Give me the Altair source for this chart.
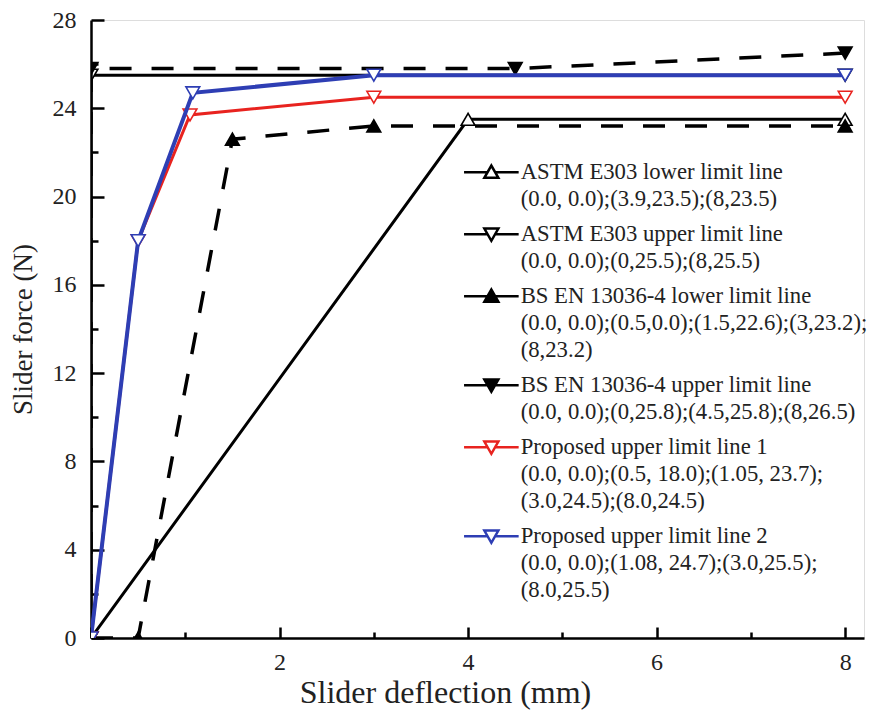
import altair as alt
import pandas as pd

# ---- data ----
labels = [
    "ASTM E303 lower limit line|(0.0, 0.0);(3.9,23.5);(8,23.5)",
    "ASTM E303 upper limit line|(0.0, 0.0);(0,25.5);(8,25.5)",
    "BS EN 13036-4 lower limit line|(0.0, 0.0);(0.5,0.0);(1.5,22.6);(3,23.2);|(8,23.2)",
    "BS EN 13036-4  upper limit line|(0.0, 0.0);(0,25.8);(4.5,25.8);(8,26.5)",
    "Proposed upper limit line 1|(0.0, 0.0);(0.5, 18.0);(1.05, 23.7);|(3.0,24.5);(8.0,24.5)",
    "Proposed upper limit line 2|(0.0, 0.0);(1.08, 24.7);(3.0,25.5);|(8.0,25.5)",
]
astm_lower_x = [0.0, 4.0, 8.0]
astm_lower_y = [0.0, 23.5, 23.5]
astm_upper_x = [0.0, 0.0, 8.0]
astm_upper_y = [0.0, 25.5, 25.5]
bs_lower_x = [0.0, 0.5, 1.5, 3.0, 8.0]
bs_lower_y = [0.0, 0.0, 22.6, 23.2, 23.2]
bs_upper_x = [0.0, 0.0, 4.5, 8.0]
bs_upper_y = [0.0, 25.8, 25.8, 26.5]
prop1_x = [0.0, 0.5, 1.05, 3.0, 8.0]
prop1_y = [0.0, 18.0, 23.7, 24.5, 24.5]
prop2_x = [0.0, 0.5, 1.08, 3.0, 8.0]
prop2_y = [0.0, 18.0, 24.7, 25.5, 25.5]

x_ticks = [0, 1, 2, 3, 4, 5, 6, 7, 8]
y_ticks = [0, 2, 4, 6, 8, 10, 12, 14, 16, 18, 20, 22, 24, 26, 28]

series_xy = [
    (astm_lower_x, astm_lower_y),
    (astm_upper_x, astm_upper_y),
    (bs_lower_x, bs_lower_y),
    (bs_upper_x, bs_upper_y),
    (prop1_x, prop1_y),
    (prop2_x, prop2_y),
]

# ---- styles ----
RED = "#e8231f"
BLUE = "#2e3eb4"
colors = ["#000000", "#000000", "#000000", "#000000", RED, BLUE]
dashes = [None, None, [22, 20], [22, 20], None, None]
widths = [3, 3, 3.5, 3.5, 3, 4]
shapes = ["triangle-up", "triangle-down", "triangle-up", "triangle-down", "triangle-down", "triangle-down"]
fills = ["white", "white", "#000000", "#000000", "white", "white"]

# legend glyph: short line with a triangle in the middle (shifted down to sit on first text line)
S = 1.55
UP = f"M-3.9,{S}H-0.5M0.5,{S}H3.9M-1,{S+0.8}L1,{S+0.8}L0,{S-0.95}Z"
DOWN = f"M-3.9,{S}H-0.5M0.5,{S}H3.9M-1,{S-0.8}L1,{S-0.8}L0,{S+0.95}Z"
legend_shapes = [UP if s == "triangle-up" else DOWN for s in shapes]

FONT = "Liberation Serif"

xaxis = alt.Axis(
    values=x_ticks,
    labelExpr="datum.value % 2 === 0 && datum.value > 0 ? datum.label : ''",
    title="Slider deflection (mm)",
    titleFont=FONT, titleFontSize=32, titleFontWeight="normal", titleColor="#222",
    titlePadding=-2, titleX=354,
    labelFont=FONT, labelFontSize=24, labelColor="#222", labelPadding=23,
    domainColor="#000", domainWidth=2.5, tickColor="#000", tickWidth=2.5,
    tickSize={"expr": "datum.value % 2 === 0 ? -11 : -6"},
    grid=False, labelFlush=False, labelOverlap=False,
)
yaxis = alt.Axis(
    values=y_ticks,
    labelExpr="datum.value % 4 === 0 ? datum.label : ''",
    title="Slider force (N)",
    titleFont=FONT, titleFontSize=27, titleFontWeight="normal", titleColor="#222",
    titlePadding=15,
    labelFont=FONT, labelFontSize=24, labelColor="#222", labelPadding=28,
    domainColor="#000", domainWidth=2.5, tickColor="#000", tickWidth=2.5,
    tickSize={"expr": "datum.value % 4 === 0 ? -13 : -7"},
    grid=False, labelFlush=False, labelOverlap=False,
)
xenc = alt.X("x:Q", scale=alt.Scale(domain=[0, 8.2], nice=False, zero=False), axis=xaxis)
yenc = alt.Y("y:Q", scale=alt.Scale(domain=[0, 28], nice=False), axis=yaxis)

layers = []
for i, (xs, ys) in enumerate(series_xy):
    df = pd.DataFrame({"x": xs, "y": ys, "i": list(range(len(xs)))})
    lkw = dict(color=colors[i], strokeWidth=widths[i], clip=True)
    if dashes[i]:
        lkw["strokeDash"] = dashes[i]
    line = alt.Chart(df).mark_line(**lkw).encode(x=xenc, y=yenc, order="i:Q")
    pts = alt.Chart(df).mark_point(
        shape=shapes[i], filled=False, fill=fills[i], stroke=colors[i],
        strokeWidth=1.6, size=190, opacity=1, clip=True,
    ).encode(x=xenc, y=yenc)
    layers += [line, pts]

# legend-only layer (invisible marks)
leg_df = pd.DataFrame({"series": labels, "x": [xy[0][0] for xy in series_xy], "y": [xy[1][0] for xy in series_xy]})
legend = alt.Legend(
    orient="none", legendX=389, legendY=130, title=None,
    labelFont=FONT, labelFontSize=22.7, labelColor="#222", labelLimit=0,
    labelExpr="split(datum.label, '|')", labelBaseline="top", labelOffset=18,
    symbolSize=196, symbolStrokeWidth=2.5, symbolOpacity=1, rowPadding=-9,
)
leg_layer = alt.Chart(leg_df).mark_point(opacity=0, filled=False, clip=True).encode(
    x=xenc, y=yenc,
    color=alt.Color("series:N", scale=alt.Scale(domain=labels, range=colors), legend=legend),
    shape=alt.Shape("series:N", scale=alt.Scale(domain=labels, range=legend_shapes), legend=legend),
    fill=alt.Fill("series:N", scale=alt.Scale(domain=labels, range=fills), legend=legend),
)
layers.append(leg_layer)

chart = alt.layer(*layers).properties(
    width=773, height=618,
    autosize=alt.AutoSizeParams(type="none"),
    padding={"left": 83, "top": 12, "right": 6, "bottom": 80},
).configure_view(stroke=None).configure(style={"guide-label": {"lineHeight": 27}})

chart.save("out.html", embed_options={"renderer": "svg", "actions": False})
